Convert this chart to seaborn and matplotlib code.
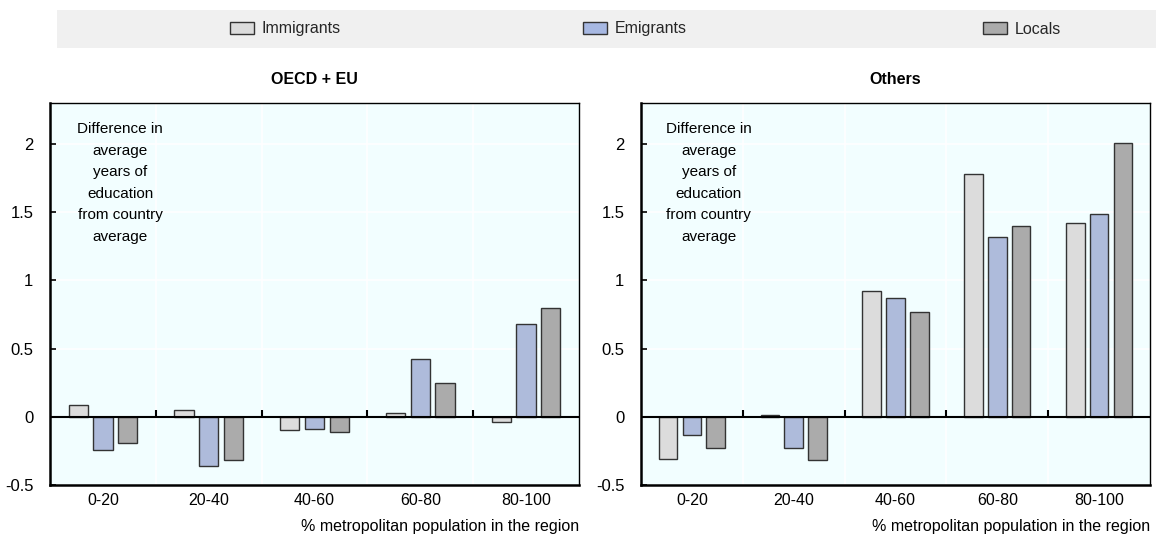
import matplotlib
matplotlib.use("Agg")
import matplotlib.pyplot as plt
import seaborn as sns
import pandas as pd
from matplotlib.patches import Patch, Rectangle
from matplotlib.ticker import FuncFormatter, FixedLocator

categories = ["0-20", "20-40", "40-60", "60-80", "80-100"]
series = ["Immigrants", "Emigrants", "Locals"]
oecd_imm = [0.09, 0.05, -0.10, 0.03, -0.04]
oecd_emi = [-0.24, -0.36, -0.09, 0.42, 0.68]
oecd_loc = [-0.19, -0.32, -0.11, 0.25, 0.80]
oth_imm = [-0.31, 0.015, 0.92, 1.78, 1.42]
oth_emi = [-0.13, -0.23, 0.87, 1.32, 1.49]
oth_loc = [-0.23, -0.32, 0.77, 1.40, 2.01]
panel_titles = ["OECD + EU", "Others"]
yticks = [-0.5, 0, 0.5, 1, 1.5, 2]

colors = {"Immigrants": "#DCDCDC", "Emigrants": "#A7B8E2", "Locals": "#ABABAB"}

def make_df(imm, emi, loc):
    rows = []
    for s, vals in zip(series, [imm, emi, loc]):
        for c, v in zip(categories, vals):
            rows.append({"cat": c, "series": s, "value": v})
    return pd.DataFrame(rows)

sns.set_theme(style="white")
plt.rcParams["font.family"] = ["Liberation Sans", "DejaVu Sans"]

fig = plt.figure(figsize=(11.56, 5.44), dpi=100)
W, H = 1156, 544
ax_l = fig.add_axes([50 / W, (H - 485) / H, (579 - 50) / W, (485 - 103) / H])
ax_r = fig.add_axes([641 / W, (H - 485) / H, (1150 - 641) / W, (485 - 103) / H])

datas = [make_df(oecd_imm, oecd_emi, oecd_loc), make_df(oth_imm, oth_emi, oth_loc)]

for ax, df, title in zip([ax_l, ax_r], datas, panel_titles):
    ax.set_facecolor("#F2FEFF")
    sns.barplot(data=df, x="cat", y="value", hue="series", order=categories,
                hue_order=series, palette=colors, width=0.7, gap=0.22,
                edgecolor="#333333", linewidth=1.0, legend=False, ax=ax, zorder=3)
    ax.set_ylim(-0.5, 2.3)
    ax.set_xlim(-0.5, len(categories) - 0.5)
    ax.yaxis.set_major_locator(FixedLocator(yticks))
    ax.yaxis.set_major_formatter(FuncFormatter(lambda v, p: ("%g" % v).replace("\u2212", "-")))
    ax.set_xticks(range(len(categories)))
    ax.set_xticklabels(categories)
    ax.set_xticks([i + 0.5 for i in range(len(categories) - 1)], minor=True)
    ax.grid(True, which="major", axis="y", color="white", linewidth=1.2, zorder=0)
    ax.grid(True, which="minor", axis="x", color="white", linewidth=1.2, zorder=0)
    ax.grid(False, which="major", axis="x")
    ax.set_axisbelow(True)
    ax.tick_params(axis="y", which="major", direction="in", length=4, width=1.2,
                   color="black", left=True, labelsize=12, pad=12, labelcolor="black")
    ax.tick_params(axis="x", which="both", bottom=False, length=0, labelsize=11.5,
                   pad=6, labelcolor="black")
    for side in ["left", "bottom"]:
        ax.spines[side].set_color("black")
        ax.spines[side].set_linewidth(1.8)
    for side in ["top", "right"]:
        ax.spines[side].set_color("black")
        ax.spines[side].set_linewidth(1.0)
    ax.axhline(0, color="black", linewidth=1.5, zorder=4)
    ax.vlines([i + 0.5 for i in range(len(categories) - 1)], 0, 0.05,
              color="black", linewidth=1.5, zorder=4)
    ax.set_xlabel("% metropolitan population in the region", fontsize=11.5,
                  loc="right", labelpad=8, color="black")
    ax.set_ylabel("")
    ax.set_title(title, fontsize=11.5, fontweight="bold", pad=14, color="black")
    ax.text(0.133, 0.95, "Difference in\naverage\nyears of\neducation\nfrom country\naverage",
            transform=ax.transAxes, ha="center", va="top", fontsize=11,
            linespacing=1.68, color="black", zorder=5)

# Legend band
fig.patches.append(Rectangle((57 / W, (H - 48) / H), (1156 - 57) / W, 38 / H,
                             transform=fig.transFigure, facecolor="#F0F0F0",
                             edgecolor="none", zorder=0))
legend_x = [230, 583, 983]
for s, lx in zip(series, legend_x):
    h = Patch(facecolor=colors[s], edgecolor="#333333", linewidth=1.0)
    fig.legend([h], [s], loc="center left",
               bbox_to_anchor=(lx / W, (H - 29) / H),
               frameon=False, fontsize=11.5, handlelength=1.5, handleheight=0.8,
               handletextpad=0.5, borderaxespad=0, borderpad=0)

fig.savefig("out.png", dpi=100)
